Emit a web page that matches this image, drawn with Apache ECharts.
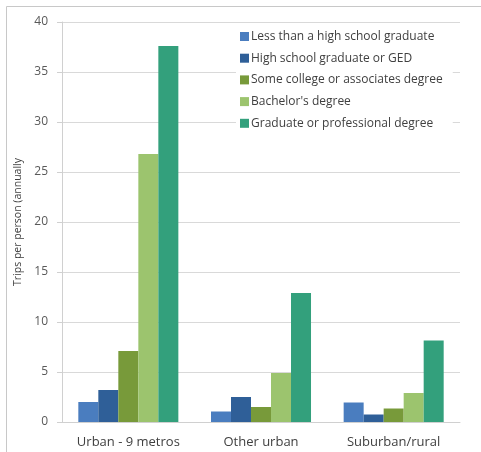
<!DOCTYPE html>
<html><head><meta charset="utf-8">
<script src="https://cdn.jsdelivr.net/npm/echarts@6/dist/echarts.min.js"></script>
<style>html,body{margin:0;padding:0;background:#fff}#c{width:481px;height:452px}</style>
</head><body><div id="c"></div>
<script>
const categories = ['Urban - 9 metros', 'Other urban', 'Suburban/rural'];
const seriesNames = ['Less than a high school graduate', 'High school graduate or GED', 'Some college or associates degree', "Bachelor's degree", 'Graduate or professional degree'];
const lessThanHS = [2.0, 1.05, 1.95];
const hsGrad = [3.2, 2.5, 0.75];
const someCollege = [7.1, 1.5, 1.35];
const bachelors = [26.8, 4.9, 2.9];
const graduate = [37.6, 12.9, 8.15];
const yTicks = {min: 0, max: 40, interval: 5};
const colors = ['#4a7dbf', '#2f5f98', '#789a3a', '#9cc46e', '#33a07c'];
const allValues = [lessThanHS, hsGrad, someCollege, bachelors, graduate];

const chart = echarts.init(document.getElementById('c'), null, {renderer: 'canvas'});
chart.setOption({
  animation: false,
  backgroundColor: '#fff',
  graphic: [{type: 'rect', shape: {x: 6.5, y: 6.5, width: 480, height: 460}, style: {fill: 'none', stroke: '#c8c8c8', lineWidth: 1}, z: -1}],
  grid: {left: 62, right: 21, top: 22, bottom: 30},
  legend: {
    orient: 'vertical', left: 236, top: 28, itemWidth: 9, itemHeight: 9, itemGap: 6.7,
    backgroundColor: '#fff', padding: [1, 10, 1, 4],
    icon: 'rect',
    textStyle: {fontFamily: 'Open Sans', fontSize: 12, lineHeight: 15, color: '#404040', padding: [0, 0, 0, -3]},
    data: seriesNames
  },
  xAxis: {
    type: 'category', data: categories,
    axisLine: {lineStyle: {color: '#d0d0d0'}},
    axisTick: {show: false},
    axisLabel: {interval: 0, hideOverlap: false, fontFamily: 'Open Sans', fontSize: 13, color: '#404040', margin: 14}
  },
  yAxis: {
    type: 'value', min: yTicks.min, max: yTicks.max, interval: yTicks.interval,
    name: 'Trips per person (annually', nameLocation: 'middle', nameGap: 37,
    nameTextStyle: {fontFamily: 'Open Sans', fontSize: 10.5, color: '#404040'},
    axisLine: {show: true, lineStyle: {color: '#d0d0d0'}},
    axisTick: {show: true, length: 5, inside: false, lineStyle: {color: '#d0d0d0'}},
    splitLine: {lineStyle: {color: '#d9d9d9'}},
    axisLabel: {fontFamily: 'Open Sans', fontSize: 12, color: '#595959', margin: 14}
  },
  series: seriesNames.map((n, i) => ({
    name: n, type: 'bar', data: allValues[i], barGap: '0%', barCategoryGap: '24.6%',
    itemStyle: {color: colors[i]}
  }))
});
</script></body></html>
